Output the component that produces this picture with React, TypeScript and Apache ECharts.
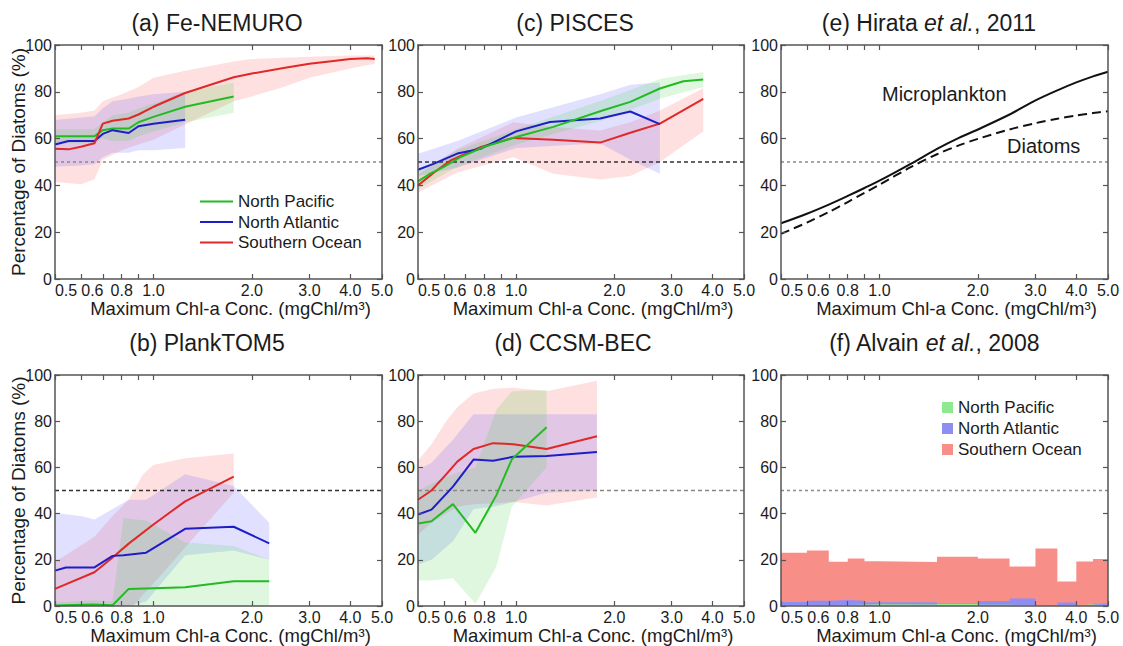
import { useEffect, useRef } from "react";
import * as echarts from "echarts";

const FONT = '"Liberation Sans", Arial, Helvetica, sans-serif';
const INK = "#1b1b1b";
const FRAME = "#555555";

const GREEN = "#22bb22";
const BLUE = "#1e1ec8";
const RED = "#e02828";
const GREEN_FILL = "rgba(60, 205, 60, 0.17)";
const BLUE_FILL = "rgba(80, 80, 255, 0.17)";
const RED_FILL = "rgba(255, 70, 70, 0.17)";
const NP_BAR = "#90e890";
const NA_BAR = "#8e8ef2";
const SO_BAR = "#f88e88";

// Chl-a axis (logarithmic, 0.5 .. 5.0 mgChl/m3)
const CHL_MIN = 0.5;
const CHL_MAX = 5.0;
const chlTicks = [0.5, 0.6, 0.7, 0.8, 0.9, 1.0, 2.0, 3.0, 4.0, 5.0];
const chlLabels = [0.5, 0.6, 0.8, 1.0, 2.0, 3.0, 4.0, 5.0];
const PCT_MIN = 0;
const PCT_MAX = 100;
const PCT_STEP = 20;
const THRESHOLD = 50;

const REGIONS = ["North Pacific", "North Atlantic", "Southern Ocean"];

// (a) Fe-NEMURO
const aChlNP = [0.5, 0.55, 0.6, 0.66, 0.7, 0.75, 0.84, 0.9, 1.0, 1.25, 1.76];
const aPctNP = [61, 61, 61, 61, 63.6, 64.3, 64.3, 67, 69.3, 73.6, 78];
const aChlNA = [0.5, 0.55, 0.66, 0.7, 0.75, 0.84, 0.9, 1.0, 1.25];
const aPctNA = [57.5, 59, 59, 62, 63.6, 62.4, 65.3, 66.3, 68.1];
const aChlSO = [0.5, 0.55, 0.6, 0.66, 0.7, 0.75, 0.84, 0.9, 1.0, 1.25, 1.76, 2.0, 2.5, 3.0, 3.5, 4.0, 4.5, 4.75];
const aPctSO = [55.7, 55.4, 56.5, 58, 66.4, 67.6, 68.6, 70.3, 73.6, 79.5, 86.2, 87.8, 90.2, 92, 93.1, 94, 94.3, 94];
const aBandChlNP = [0.5, 0.66, 0.7, 0.75, 0.84, 0.9, 1.0, 1.25, 1.76];
const aBandHiNP = [64, 64, 67, 70, 71, 73, 75, 80, 84];
const aBandLoNP = [58, 58, 60, 59, 59, 61, 63, 67, 71];
const aBandChlNA = [0.5, 0.6, 0.66, 0.7, 0.75, 0.84, 0.9, 1.0, 1.25];
const aBandHiNA = [68, 69, 69.5, 73, 76, 77, 78, 79, 80];
const aBandLoNA = [48, 48.5, 49, 52, 54, 54, 55, 55, 56];
const aBandChlSO = [0.5, 0.6, 0.66, 0.7, 0.8, 0.9, 1.0, 1.25, 1.76, 2.0, 2.5, 3.0, 4.0, 4.75];
const aBandHiSO = [70, 71, 72, 76, 79, 82, 86, 89, 93, 94, 94.5, 95, 95.5, 95.5];
const aBandLoSO = [41.5, 40.5, 42.5, 51, 55, 57.5, 59.5, 66, 76, 78, 82, 86, 90, 92];

// (b) PlankTOM5
const bChlNP = [0.5, 0.65, 0.75, 0.84, 1.0, 1.25, 1.76, 2.26];
const bPctNP = [0.2, 0.7, 0.3, 7.4, 7.7, 8.1, 10.7, 10.7];
const bChlNA = [0.5, 0.54, 0.66, 0.75, 0.81, 0.95, 1.25, 1.76, 2.26];
const bPctNA = [15.3, 16.7, 16.7, 21.7, 22, 23.1, 33.4, 34.3, 27.1];
const bChlSO = [0.5, 0.66, 0.75, 0.84, 1.0, 1.25, 1.76];
const bPctSO = [7.4, 14.6, 21, 27, 35.3, 45.3, 56];
const bBandChlNP = [0.5, 0.66, 0.75, 0.81, 0.95, 1.25, 1.76, 2.26];
const bBandHiNP = [1.5, 2.5, 2, 38, 37, 27.5, 26, 20];
const bBandLoNP = [0, 0, 0, 0, 0, 0, 0, 0];
const bBandChlNA = [0.5, 0.6, 0.66, 0.75, 0.84, 0.95, 1.25, 1.76, 2.26];
const bBandHiNA = [40.3, 39, 37.5, 42, 46, 46, 57, 52, 36];
const bBandLoNA = [0, 0, 0, 0, 0, 2, 22, 24, 20];
const bBandChlSO = [0.5, 0.66, 0.75, 0.84, 0.87, 0.93, 1.0, 1.25, 1.76];
const bBandHiSO = [19, 30, 39, 46, 50, 57, 61, 64, 66];
const bBandLoSO = [0, 0, 0, 0, 0, 5, 9.7, 25.3, 49];

// (c) PISCES
const cChlNP = [0.5, 0.545, 0.6, 0.675, 0.795, 1.0, 1.3, 1.85, 2.24, 2.76, 3.26, 3.75];
const cPctNP = [41.7, 45, 47.9, 52.1, 56.4, 60.7, 65, 72.1, 75.7, 81.4, 84.5, 85.3];
const cChlNA = [0.5, 0.56, 0.66, 0.78, 1.0, 1.27, 1.81, 2.24, 2.76];
const cPctNA = [46.7, 49.3, 53.6, 55.7, 63.1, 67.1, 68.6, 71.6, 66.2];
const cChlSO = [0.5, 0.56, 0.63, 0.78, 0.98, 1.3, 1.81, 2.24, 2.76, 3.75];
const cPctSO = [40, 45.5, 50.7, 56.4, 60.3, 59.5, 58.3, 62.5, 66.4, 77];
const cBandChlNP = [0.5, 0.66, 1.0, 1.85, 2.76, 3.75];
const cBandHiNP = [46, 55, 64, 76.5, 85.5, 88.5];
const cBandLoNP = [38.5, 48, 57.5, 68, 77, 82];
const cBandChlNA = [0.5, 0.66, 1.0, 1.81, 2.24, 2.76];
const cBandHiNA = [53.5, 59, 69, 79, 83, 84];
const cBandLoNA = [44, 47.5, 56, 58, 51, 45];
const cBandChlSO = [0.5, 0.66, 0.98, 1.3, 1.81, 2.24, 2.76, 3.75];
const cBandHiSO = [44.5, 55.7, 67, 65, 63.5, 67, 72, 81.5];
const cBandLoSO = [37, 45.5, 52, 45, 42.5, 44, 50, 63];

// (d) CCSM-BEC
const dChlNP = [0.5, 0.55, 0.64, 0.75, 0.87, 0.97, 1.24];
const dPctNP = [35.7, 36.7, 44.1, 31.7, 48, 63.5, 77.4];
const dChlNA = [0.5, 0.55, 0.64, 0.74, 0.85, 0.98, 1.24, 1.77];
const dPctNA = [39.6, 41.7, 51.7, 63.4, 62.9, 64.6, 64.9, 66.7];
const dChlSO = [0.5, 0.55, 0.61, 0.66, 0.74, 0.85, 0.98, 1.24, 1.77];
const dPctSO = [46, 50, 57, 62.5, 68, 70.5, 70, 68, 73.5];
const dBandChlNP = [0.5, 0.55, 0.64, 0.75, 0.87, 0.97, 1.24];
const dBandHiNP = [50, 53, 57, 60, 85, 93, 93.5];
const dBandLoNP = [11, 11, 12, 1, 17, 43, 60];
const dBandChlNA = [0.5, 0.55, 0.64, 0.74, 0.85, 0.98, 1.24, 1.77];
const dBandHiNA = [59, 62, 72, 83, 83, 83, 83, 83];
const dBandLoNA = [18, 20, 28, 42, 43, 45, 49, 50];
const dBandChlSO = [0.5, 0.55, 0.61, 0.66, 0.74, 0.85, 0.98, 1.24, 1.77];
const dBandHiSO = [63, 70, 80, 86, 92, 94, 94.5, 93, 97.5];
const dBandLoSO = [31, 36, 40, 43, 44, 44.5, 45, 43.5, 47];

// (e) Hirata et al., 2011
const eChl = [0.5, 0.6, 0.7, 0.8, 0.9, 1.0, 1.25, 1.5, 1.75, 2.0, 2.5, 3.0, 3.5, 4.0, 4.5, 5.0];
const eMicro = [23.8, 27.9, 31.8, 35.5, 38.9, 42.0, 49.3, 55.6, 60.3, 63.9, 70.3, 76.3, 80.6, 84.0, 86.6, 88.6];
const eDiatoms = [19.3, 24.1, 28.6, 32.9, 36.8, 40.3, 47.9, 53.3, 57.1, 59.9, 63.9, 66.6, 68.5, 69.9, 70.9, 71.7];

// (f) Alvain et al., 2008 - bin edges and per-bin percentages
const fEdges = [0.5, 0.6, 0.7, 0.8, 0.9, 1.0, 1.5, 2.0, 2.5, 3.0, 3.5, 4.0, 4.5, 5.0];
const fSO = [23.1, 24.0, 19.2, 20.6, 19.4, 19.1, 21.3, 20.6, 17.1, 24.9, 10.6, 19.3, 20.3];
const fNA = [1.7, 2.3, 2.6, 2.3, 1.6, 1.6, 1.2, 2.2, 3.2, 0.4, 1.5, 0.3, 1.0];
const fNP = [0.3, 0.3, 0.4, 0.5, 0.8, 0.6, 1.0, 0.5, 0.4, 0.3, 0.3, 0.6, 0.3];

const lg = (c: number) => Math.log10(c);
const pairs = (chl: number[], pct: number[]) => chl.map((c, k) => [lg(c), pct[k]]);

type LineSpec = { name: string; chl: number[]; pct: number[]; color: string; dash?: number[]; smooth?: boolean };
type BandSpec = { chl: number[]; hi: number[]; lo: number[]; fill: string };
type PanelSpec = {
  box: [number, number, number, number];
  title: string;
  titleX: number;
  titleY: number;
  yName: boolean;
  refColor: string;
  refDash: number[];
  bands: BandSpec[];
  lines: LineSpec[];
};

const TOP = 45;
const TOP_H = 234;
const BOT = 375;
const BOT_H = 233;

const PANELS: PanelSpec[] = [
  {
    box: [55, TOP, 327, TOP_H], title: "(a) Fe-NEMURO", titleX: 217, titleY: 11, yName: true,
    refColor: "#8a8a8a", refDash: [3, 3],
    bands: [
      { chl: aBandChlSO, hi: aBandHiSO, lo: aBandLoSO, fill: RED_FILL },
      { chl: aBandChlNA, hi: aBandHiNA, lo: aBandLoNA, fill: BLUE_FILL },
      { chl: aBandChlNP, hi: aBandHiNP, lo: aBandLoNP, fill: GREEN_FILL },
    ],
    lines: [
      { name: REGIONS[0], chl: aChlNP, pct: aPctNP, color: GREEN },
      { name: REGIONS[1], chl: aChlNA, pct: aPctNA, color: BLUE },
      { name: REGIONS[2], chl: aChlSO, pct: aPctSO, color: RED },
    ],
  },
  {
    box: [418, TOP, 326, TOP_H], title: "(c) PISCES", titleX: 575, titleY: 11, yName: false,
    refColor: "#333333", refDash: [4, 3],
    bands: [
      { chl: cBandChlSO, hi: cBandHiSO, lo: cBandLoSO, fill: RED_FILL },
      { chl: cBandChlNA, hi: cBandHiNA, lo: cBandLoNA, fill: BLUE_FILL },
      { chl: cBandChlNP, hi: cBandHiNP, lo: cBandLoNP, fill: GREEN_FILL },
    ],
    lines: [
      { name: REGIONS[2], chl: cChlSO, pct: cPctSO, color: RED },
      { name: REGIONS[1], chl: cChlNA, pct: cPctNA, color: BLUE },
      { name: REGIONS[0], chl: cChlNP, pct: cPctNP, color: GREEN },
    ],
  },
  {
    box: [781, TOP, 327, TOP_H], title: "{n|(e) Hirata }{i|et al.}{n|, 2011}", titleX: 929, titleY: 11, yName: false,
    refColor: "#8a8a8a", refDash: [3, 3],
    bands: [],
    lines: [
      { name: "Microplankton", chl: eChl, pct: eMicro, color: "#111111", smooth: true },
      { name: "Diatoms", chl: eChl, pct: eDiatoms, color: "#111111", dash: [9, 5], smooth: true },
    ],
  },
  {
    box: [55, BOT, 327, BOT_H], title: "(b) PlankTOM5", titleX: 207, titleY: 331, yName: true,
    refColor: "#333333", refDash: [4, 3],
    bands: [
      { chl: bBandChlSO, hi: bBandHiSO, lo: bBandLoSO, fill: RED_FILL },
      { chl: bBandChlNA, hi: bBandHiNA, lo: bBandLoNA, fill: BLUE_FILL },
      { chl: bBandChlNP, hi: bBandHiNP, lo: bBandLoNP, fill: GREEN_FILL },
    ],
    lines: [
      { name: REGIONS[2], chl: bChlSO, pct: bPctSO, color: RED },
      { name: REGIONS[1], chl: bChlNA, pct: bPctNA, color: BLUE },
      { name: REGIONS[0], chl: bChlNP, pct: bPctNP, color: GREEN },
    ],
  },
  {
    box: [418, BOT, 326, BOT_H], title: "(d) CCSM-BEC", titleX: 573, titleY: 331, yName: false,
    refColor: "#888888", refDash: [4, 3],
    bands: [
      { chl: dBandChlSO, hi: dBandHiSO, lo: dBandLoSO, fill: RED_FILL },
      { chl: dBandChlNA, hi: dBandHiNA, lo: dBandLoNA, fill: BLUE_FILL },
      { chl: dBandChlNP, hi: dBandHiNP, lo: dBandLoNP, fill: GREEN_FILL },
    ],
    lines: [
      { name: REGIONS[2], chl: dChlSO, pct: dPctSO, color: RED },
      { name: REGIONS[1], chl: dChlNA, pct: dPctNA, color: BLUE },
      { name: REGIONS[0], chl: dChlNP, pct: dPctNP, color: GREEN },
    ],
  },
  {
    box: [781, BOT, 327, BOT_H], title: "{n|(f) Alvain }{i|et al.}{n|, 2008}", titleX: 934, titleY: 331, yName: false,
    refColor: "#8a8a8a", refDash: [3, 3],
    bands: [],
    lines: [],
  },
];

const frameLine = { color: FRAME, width: 1.5 };
const tickLine = { color: FRAME, width: 1.2 };
const labelText = { fontSize: 16, color: INK, fontFamily: FONT };

// the two crowded labels at the low end sit slightly right of their ticks
const chlLabel = (v: number) => {
  const c = Math.pow(10, v);
  const s = c.toFixed(1);
  if (Math.abs(c - 0.5) < 1e-6) return `{first|${s}}`;
  if (Math.abs(c - 0.6) < 1e-6) return `{second|${s}}`;
  return s;
};

function buildOption() {
  const grid: any[] = [];
  const xAxis: any[] = [];
  const yAxis: any[] = [];
  const series: any[] = [];
  const title: any[] = [];
  const xMin = lg(CHL_MIN);
  const xMax = lg(CHL_MAX);

  PANELS.forEach((p, i) => {
    const [left, top, width, height] = p.box;
    grid.push({ left, top, width, height });

    xAxis.push({
      type: "value", gridIndex: i, position: "bottom", min: xMin, max: xMax, z: 5,
      axisLine: { show: true, onZero: false, lineStyle: frameLine },
      axisTick: { show: true, inside: true, length: 5, customValues: chlTicks.map(lg), lineStyle: tickLine },
      axisLabel: {
        show: true, customValues: chlLabels.map(lg), formatter: chlLabel, margin: 3, ...labelText,
        rich: {
          first: { ...labelText, padding: [0, 0, 0, 22] },
          second: { ...labelText, padding: [0, 0, 0, 23] },
        },
      },
      splitLine: { show: false },
      name: "Maximum Chl-a Conc. (mgChl/m³)",
      nameLocation: "middle",
      nameGap: 20,
      nameMoveOverlap: false,
      nameTextStyle: { fontSize: 18.5, color: INK, fontFamily: FONT, padding: [0, 0, 0, 24] },
    });
    xAxis.push({
      type: "value", gridIndex: i, position: "top", min: xMin, max: xMax, z: 5,
      axisLine: { show: true, onZero: false, lineStyle: frameLine },
      axisTick: { show: true, inside: true, length: 5, customValues: chlTicks.map(lg), lineStyle: tickLine },
      axisLabel: { show: false },
      splitLine: { show: false },
    });
    yAxis.push({
      type: "value", gridIndex: i, position: "left", min: PCT_MIN, max: PCT_MAX, interval: PCT_STEP, z: 5,
      axisLine: { show: true, onZero: false, lineStyle: frameLine },
      axisTick: { show: true, inside: true, length: 5, lineStyle: tickLine },
      axisLabel: { margin: 3, ...labelText },
      splitLine: { show: false },
      name: p.yName ? "Percentage of Diatoms (%)" : "",
      nameLocation: "middle",
      nameGap: 27,
      nameMoveOverlap: false,
      nameTextStyle: { fontSize: 19, color: INK, fontFamily: FONT },
    });
    yAxis.push({
      type: "value", gridIndex: i, position: "right", min: PCT_MIN, max: PCT_MAX, interval: PCT_STEP, z: 5,
      axisLine: { show: true, onZero: false, lineStyle: frameLine },
      axisTick: { show: true, inside: true, length: 5, lineStyle: tickLine },
      axisLabel: { show: false },
      splitLine: { show: false },
    });

    title.push({
      text: p.title,
      left: p.titleX,
      top: p.titleY,
      textAlign: "center",
      padding: 0,
      textStyle: {
        fontSize: 23, fontWeight: "normal", color: INK, fontFamily: FONT,
        rich: {
          n: { fontSize: 23, color: INK, fontFamily: FONT },
          i: { fontSize: 23, color: INK, fontFamily: FONT, fontStyle: "italic" },
        },
      },
    });

    const ax = { xAxisIndex: 2 * i, yAxisIndex: 2 * i };

    // spread envelopes
    p.bands.forEach((b) => {
      const pts = [
        ...b.chl.map((c, k) => [lg(c), b.hi[k]]),
        ...b.chl.map((c, k) => [lg(c), b.lo[k]]).reverse(),
      ];
      series.push({
        type: "custom", ...ax, silent: true, z: 1,
        data: [[lg(b.chl[0]), b.lo[0]]],
        renderItem: (_params: any, api: any) => ({
          type: "polygon",
          shape: { points: pts.map((pt) => api.coord(pt)) },
          style: { fill: b.fill },
        }),
      });
    });

    // (f) binned histogram steps
    if (i === 5) {
      const steps: [string, number[], string][] = [
        [REGIONS[2], fSO, SO_BAR],
        [REGIONS[1], fNA, NA_BAR],
        [REGIONS[0], fNP, NP_BAR],
      ];
      steps.forEach(([name, vals, color]) => {
        series.push({
          type: "line", name, ...ax, step: "end", symbol: "none", silent: true, z: 2,
          data: fEdges.map((e, k) => [lg(e), vals[Math.min(k, vals.length - 1)]]),
          lineStyle: { width: 0, color },
          itemStyle: { color },
          areaStyle: { color, opacity: 1 },
        });
      });
    }

    // 50 % reference line
    series.push({
      type: "line", ...ax, symbol: "none", silent: true, z: 3,
      data: [[xMin, THRESHOLD], [xMax, THRESHOLD]],
      lineStyle: { color: p.refColor, width: 1.5, type: p.refDash },
    });

    p.lines.forEach((l) => {
      series.push({
        type: "line", name: l.name, ...ax, symbol: "none", silent: true, z: 4,
        smooth: l.smooth ? 0.3 : false,
        data: pairs(l.chl, l.pct),
        lineStyle: { color: l.color, width: 2, type: l.dash ? l.dash : "solid" },
        itemStyle: { color: l.color },
      });
    });
  });

  const legendText = { fontSize: 17, color: INK, fontFamily: FONT };

  return {
    animation: false,
    backgroundColor: "#ffffff",
    title,
    grid,
    xAxis,
    yAxis,
    series,
    legend: [
      {
        orient: "vertical", left: 200, top: 193, padding: 0, itemGap: 3.5,
        itemWidth: 33, itemHeight: 2, icon: "rect", selectedMode: false,
        itemStyle: { borderWidth: 0 },
        textStyle: legendText,
        data: REGIONS,
      },
      {
        orient: "vertical", left: 942, top: 399, padding: 0, itemGap: 4,
        itemWidth: 11, itemHeight: 11, icon: "rect", selectedMode: false,
        itemStyle: { borderWidth: 0 },
        textStyle: legendText,
        data: [
          { name: REGIONS[0], itemStyle: { color: NP_BAR, borderWidth: 0 } },
          { name: REGIONS[1], itemStyle: { color: NA_BAR, borderWidth: 0 } },
          { name: REGIONS[2], itemStyle: { color: SO_BAR, borderWidth: 0 } },
        ],
      },
    ],
    graphic: [
      { type: "text", x: 882, y: 84, silent: true, style: { text: "Microplankton", fontSize: 20, fontFamily: FONT, fill: INK } },
      { type: "text", x: 1007, y: 136, silent: true, style: { text: "Diatoms", fontSize: 20, fontFamily: FONT, fill: INK } },
    ],
  };
}

export default function App() {
  const ref = useRef<HTMLDivElement>(null);
  useEffect(() => {
    if (!ref.current) return;
    const chart = echarts.init(ref.current, undefined, { renderer: "svg" });
    chart.setOption(buildOption() as any);
    return () => chart.dispose();
  }, []);
  return (
    <div
      ref={ref}
      style={{ position: "fixed", left: 0, top: 0, width: 1123, height: 646, background: "#ffffff" }}
    />
  );
}
